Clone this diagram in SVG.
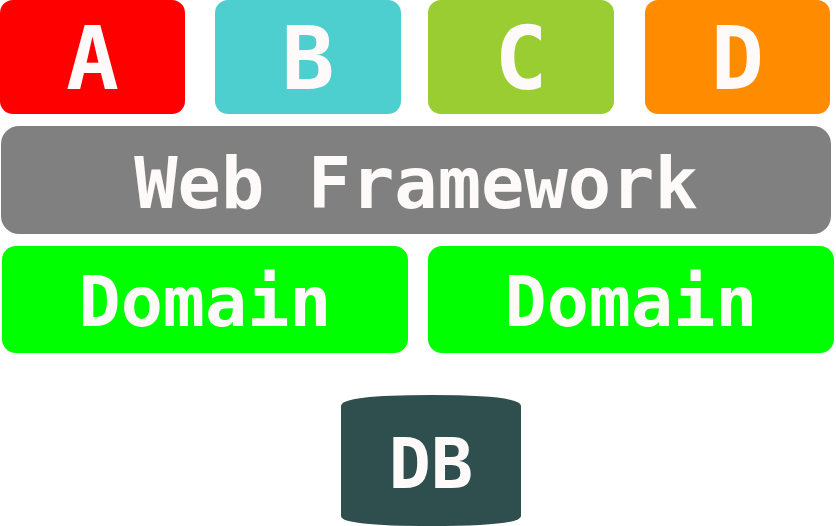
<svg xmlns="http://www.w3.org/2000/svg" width="836" height="526" viewBox="0 0 836 526">
<style>
text{font-family:"DejaVu Sans Mono",monospace;font-weight:bold;fill:#fffafa;text-anchor:middle}
.big{font-size:88px}
.mid{font-size:72px}
.dom{font-size:70px}
</style>
<rect width="836" height="526" fill="#ffffff"/>
<g id="A"><rect x="0" y="0" width="185" height="114" rx="13" fill="#ff0000"/><text class="big" x="92.5" y="89">A</text></g>
<g id="B"><rect x="215" y="0" width="186" height="114" rx="13" fill="#4ecfcf"/><text class="big" x="308" y="89">B</text></g>
<g id="C"><rect x="428" y="0" width="186" height="114" rx="13" fill="#9acd32"/><text class="big" x="521" y="89">C</text></g>
<g id="D"><rect x="645" y="0" width="185" height="114" rx="13" fill="#ff8c00"/><text class="big" x="737.5" y="89">D</text></g>
<g id="WebFramework"><rect x="1" y="126" width="830" height="108" rx="18" fill="#808080"/><text class="mid" x="416" y="208">Web Framework</text></g>
<g id="Domain1"><rect x="2" y="246" width="406" height="107" rx="14" fill="#00ff00"/><text class="dom" x="205" y="326">Domain</text></g>
<g id="Domain2"><rect x="428" y="246" width="406" height="107" rx="14" fill="#00ff00"/><text class="dom" x="631" y="326">Domain</text></g>
<g id="DB"><path d="M341 406 Q341 395 431 395 Q521 395 521 406 L521 516 Q521 526 431 526 Q341 526 341 516 Z" fill="#2f4f4f"/><text class="dom" x="431" y="488">DB</text></g>
<g id="connectors"></g>
</svg>
